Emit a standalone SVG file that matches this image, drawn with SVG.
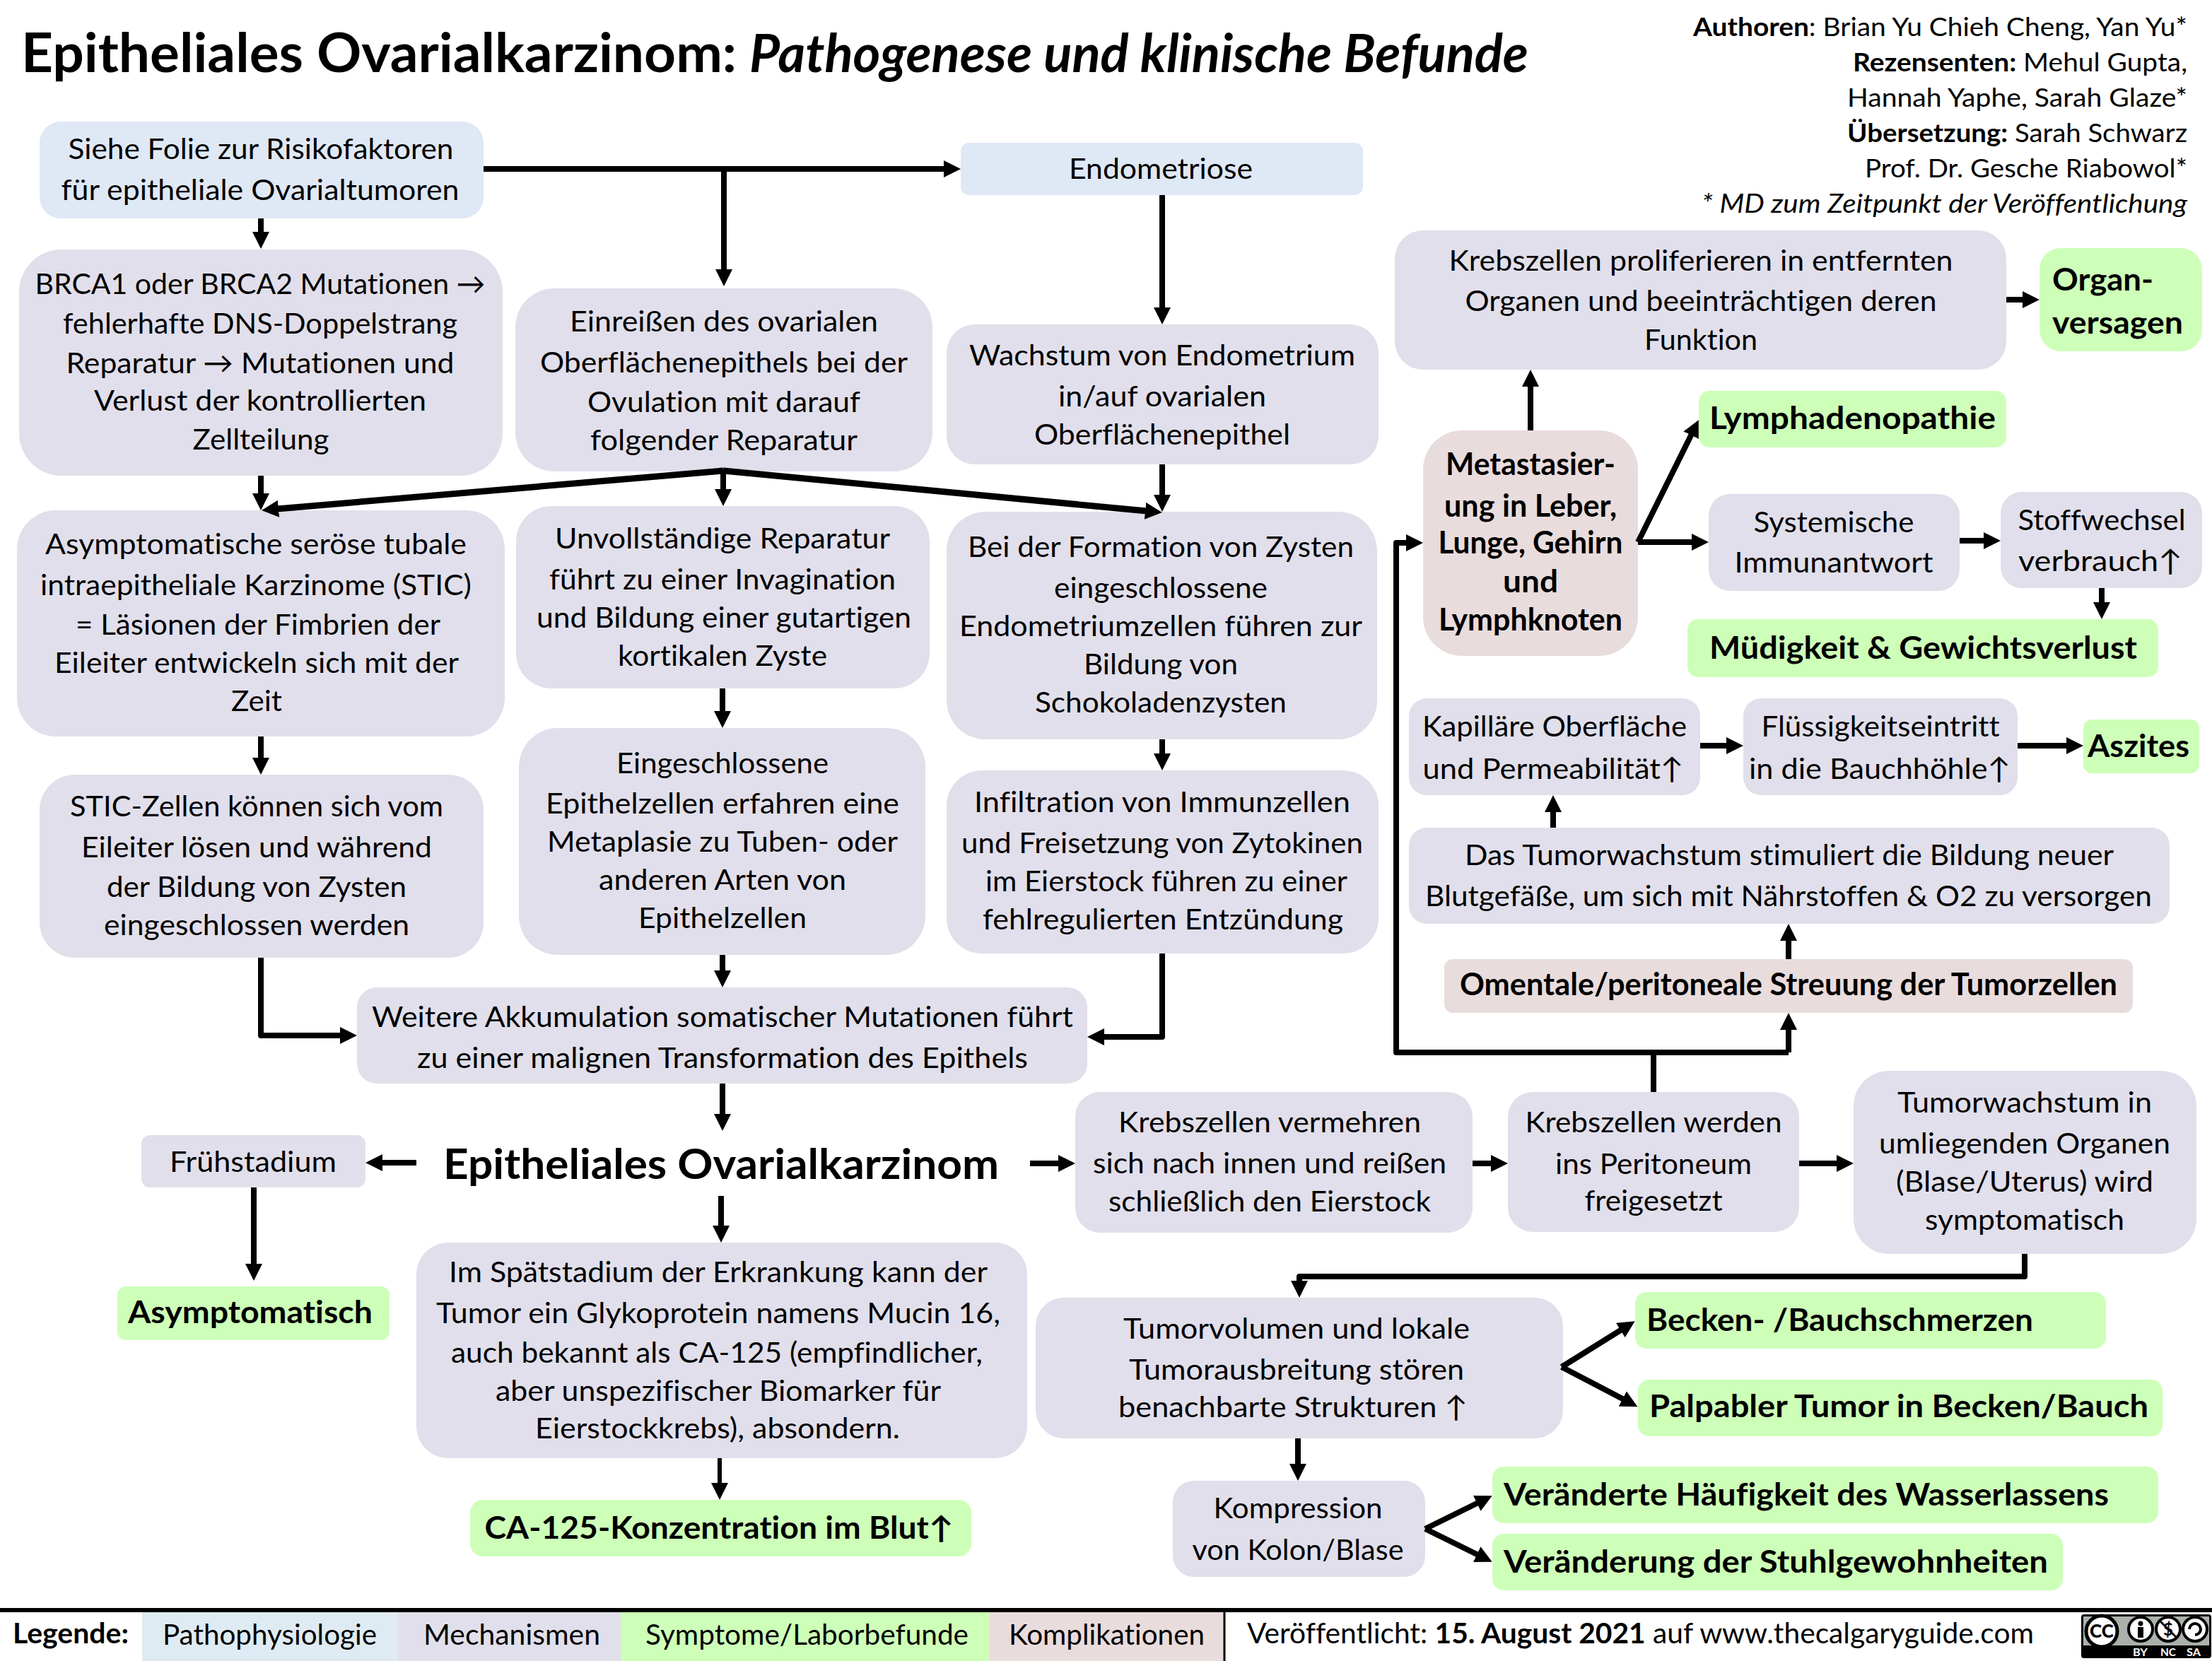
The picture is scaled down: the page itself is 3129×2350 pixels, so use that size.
<svg xmlns="http://www.w3.org/2000/svg" width="3129" height="2350" viewBox="0 0 3129 2350">
<style>
text{font-family:Lato,"Noto Sans","DejaVu Sans",sans-serif;fill:#000;font-size:41px;font-variant-ligatures:none}
.c{text-anchor:middle}
.e{text-anchor:end;font-size:36px}
.b{font-weight:700;font-size:43px}
tspan.bb{font-weight:700}
.pa{fill:#DFE8F5}.me{fill:#E1DFEB}.sy{fill:#CDFFB8}.ko{fill:#E9DCDC}
.ln{fill:none;stroke:#000;stroke-width:8;stroke-linejoin:round}
.ar{marker-end:url(#a)}
</style>
<defs>
<marker id="a" markerUnits="userSpaceOnUse" markerWidth="26" markerHeight="26" refX="2" refY="12" orient="auto"><path d="M0 0L24 12L0 24Z" fill="#000"/></marker>
</defs>
<rect width="3129" height="2350" fill="#fff"/>
<g id="header">
<text x="30" y="102" style="font-size:76px;font-weight:700" textLength="1012" lengthAdjust="spacingAndGlyphs">Epitheliales Ovarialkarzinom:</text>
<text x="1060" y="102" style="font-size:74px;font-weight:700;font-style:italic" textLength="1102" lengthAdjust="spacingAndGlyphs">Pathogenese und klinische Befunde</text>
<text class="e" x="3094" y="51" textLength="699" lengthAdjust="spacingAndGlyphs"><tspan class="bb">Authoren</tspan>: Brian Yu Chieh Cheng, Yan Yu*</text>
<text class="e" x="3094" y="101" textLength="473" lengthAdjust="spacingAndGlyphs"><tspan class="bb">Rezensenten:</tspan> Mehul Gupta,</text>
<text class="e" x="3094" y="151" textLength="481" lengthAdjust="spacingAndGlyphs">Hannah Yaphe, Sarah Glaze*</text>
<text class="e" x="3094" y="201" textLength="481" lengthAdjust="spacingAndGlyphs"><tspan class="bb">Übersetzung:</tspan> Sarah Schwarz</text>
<text class="e" x="3094" y="251" textLength="456" lengthAdjust="spacingAndGlyphs">Prof. Dr. Gesche Riabowol*</text>
<text class="e" x="3094" y="301" font-style="italic" textLength="687" lengthAdjust="spacingAndGlyphs">* MD zum Zeitpunkt der Veröffentlichung</text>
</g>
<g id="n1"><rect class="pa" x="56" y="172" width="628" height="137" rx="30"/>
<text class="c" x="369" y="225" textLength="545" lengthAdjust="spacingAndGlyphs">Siehe Folie zur Risikofaktoren</text>
<text class="c" x="368" y="283" textLength="563" lengthAdjust="spacingAndGlyphs">für epitheliale Ovarialtumoren</text></g>
<g id="n2"><rect class="pa" x="1359" y="202" width="569" height="74" rx="12"/>
<text class="c" x="1642" y="253" textLength="260" lengthAdjust="spacingAndGlyphs">Endometriose</text></g>
<g id="n3"><rect class="me" x="27" y="353" width="684" height="320" rx="60"/>
<text class="c" x="368" y="416" textLength="637" lengthAdjust="spacingAndGlyphs">BRCA1 oder BRCA2 Mutationen →</text>
<text class="c" x="368" y="472" textLength="558" lengthAdjust="spacingAndGlyphs">fehlerhafte DNS-Doppelstrang</text>
<text class="c" x="368" y="528" textLength="549" lengthAdjust="spacingAndGlyphs">Reparatur → Mutationen und</text>
<text class="c" x="368" y="581" textLength="470" lengthAdjust="spacingAndGlyphs">Verlust der kontrollierten</text>
<text class="c" x="369" y="636" textLength="193" lengthAdjust="spacingAndGlyphs">Zellteilung</text></g>
<g id="n4"><rect class="me" x="729" y="408" width="590" height="259" rx="55"/>
<text class="c" x="1024" y="469" textLength="436" lengthAdjust="spacingAndGlyphs">Einreißen des ovarialen</text>
<text class="c" x="1024" y="527" textLength="520" lengthAdjust="spacingAndGlyphs">Oberflächenepithels bei der</text>
<text class="c" x="1024" y="583" textLength="386" lengthAdjust="spacingAndGlyphs">Ovulation mit darauf</text>
<text class="c" x="1024" y="637" textLength="378" lengthAdjust="spacingAndGlyphs">folgender Reparatur</text></g>
<g id="n5"><rect class="me" x="1339" y="459" width="611" height="198" rx="40"/>
<text class="c" x="1644" y="517" textLength="546" lengthAdjust="spacingAndGlyphs">Wachstum von Endometrium</text>
<text class="c" x="1644" y="575" textLength="294" lengthAdjust="spacingAndGlyphs">in/auf ovarialen</text>
<text class="c" x="1644" y="629" textLength="362" lengthAdjust="spacingAndGlyphs">Oberflächenepithel</text></g>
<g id="n6"><rect class="me" x="24" y="722" width="690" height="320" rx="55"/>
<text class="c" x="362" y="784" textLength="596" lengthAdjust="spacingAndGlyphs">Asymptomatische seröse tubale</text>
<text class="c" x="362" y="842" textLength="610" lengthAdjust="spacingAndGlyphs">intraepitheliale Karzinome (STIC)</text>
<text class="c" x="365" y="898" textLength="516" lengthAdjust="spacingAndGlyphs">= Läsionen der Fimbrien der</text>
<text class="c" x="363" y="952" textLength="572" lengthAdjust="spacingAndGlyphs">Eileiter entwickeln sich mit der</text>
<text class="c" x="363" y="1006" textLength="72" lengthAdjust="spacingAndGlyphs">Zeit</text></g>
<g id="n7"><rect class="me" x="730" y="716" width="585" height="258" rx="50"/>
<text class="c" x="1022" y="776" textLength="474" lengthAdjust="spacingAndGlyphs">Unvollständige Reparatur</text>
<text class="c" x="1022" y="834" textLength="490" lengthAdjust="spacingAndGlyphs">führt zu einer Invagination</text>
<text class="c" x="1024" y="888" textLength="530" lengthAdjust="spacingAndGlyphs">und Bildung einer gutartigen</text>
<text class="c" x="1022" y="942" textLength="296" lengthAdjust="spacingAndGlyphs">kortikalen Zyste</text></g>
<g id="n8"><rect class="me" x="1339" y="724" width="609" height="322" rx="55"/>
<text class="c" x="1642" y="788" textLength="546" lengthAdjust="spacingAndGlyphs">Bei der Formation von Zysten</text>
<text class="c" x="1642" y="846" textLength="302" lengthAdjust="spacingAndGlyphs">eingeschlossene</text>
<text class="c" x="1642" y="900" textLength="570" lengthAdjust="spacingAndGlyphs">Endometriumzellen führen zur</text>
<text class="c" x="1642" y="954" textLength="218" lengthAdjust="spacingAndGlyphs">Bildung von</text>
<text class="c" x="1642" y="1008" textLength="356" lengthAdjust="spacingAndGlyphs">Schokoladenzysten</text></g>
<g id="n9"><rect class="me" x="56" y="1096" width="628" height="259" rx="50"/>
<text class="c" x="363" y="1155" textLength="528" lengthAdjust="spacingAndGlyphs">STIC-Zellen können sich vom</text>
<text class="c" x="363" y="1213" textLength="496" lengthAdjust="spacingAndGlyphs">Eileiter lösen und während</text>
<text class="c" x="363" y="1269" textLength="424" lengthAdjust="spacingAndGlyphs">der Bildung von Zysten</text>
<text class="c" x="363" y="1323" textLength="432" lengthAdjust="spacingAndGlyphs">eingeschlossen werden</text></g>
<g id="n10"><rect class="me" x="734" y="1030" width="575" height="321" rx="55"/>
<text class="c" x="1022" y="1094" textLength="300" lengthAdjust="spacingAndGlyphs">Eingeschlossene</text>
<text class="c" x="1022" y="1151" textLength="500" lengthAdjust="spacingAndGlyphs">Epithelzellen erfahren eine</text>
<text class="c" x="1022" y="1205" textLength="496" lengthAdjust="spacingAndGlyphs">Metaplasie zu Tuben- oder</text>
<text class="c" x="1022" y="1259" textLength="350" lengthAdjust="spacingAndGlyphs">anderen Arten von</text>
<text class="c" x="1022" y="1313" textLength="238" lengthAdjust="spacingAndGlyphs">Epithelzellen</text></g>
<g id="n11"><rect class="me" x="1339" y="1090" width="611" height="259" rx="50"/>
<text class="c" x="1644" y="1149" textLength="532" lengthAdjust="spacingAndGlyphs">Infiltration von Immunzellen</text>
<text class="c" x="1644" y="1207" textLength="568" lengthAdjust="spacingAndGlyphs">und Freisetzung von Zytokinen</text>
<text class="c" x="1650" y="1261" textLength="512" lengthAdjust="spacingAndGlyphs">im Eierstock führen zu einer</text>
<text class="c" x="1645" y="1315" textLength="510" lengthAdjust="spacingAndGlyphs">fehlregulierten Entzündung</text></g>
<g id="n12"><rect class="me" x="505" y="1397" width="1033" height="136" rx="28"/>
<text class="c" x="1022" y="1453" textLength="992" lengthAdjust="spacingAndGlyphs">Weitere Akkumulation somatischer Mutationen führt</text>
<text class="c" x="1022" y="1511" textLength="864" lengthAdjust="spacingAndGlyphs">zu einer malignen Transformation des Epithels</text></g>
<g id="n13"><rect class="me" x="200" y="1606" width="317" height="74" rx="12"/>
<text class="c" x="358" y="1658" textLength="236" lengthAdjust="spacingAndGlyphs">Frühstadium</text></g>
<g id="n14"><text class="c b" x="1020" y="1668" style="font-size:60px" textLength="786" lengthAdjust="spacingAndGlyphs">Epitheliales Ovarialkarzinom</text></g>
<g id="n15"><rect class="sy" x="166" y="1820" width="385" height="76" rx="12"/>
<text class="c b" x="354" y="1872" textLength="346" lengthAdjust="spacingAndGlyphs">Asymptomatisch</text></g>
<g id="n16"><rect class="me" x="589" y="1758" width="864" height="305" rx="45"/>
<text class="c" x="1016" y="1814" textLength="762" lengthAdjust="spacingAndGlyphs">Im Spätstadium der Erkrankung kann der</text>
<text class="c" x="1016" y="1872" textLength="798" lengthAdjust="spacingAndGlyphs">Tumor ein Glykoprotein namens Mucin 16,</text>
<text class="c" x="1014" y="1928" textLength="752" lengthAdjust="spacingAndGlyphs">auch bekannt als CA-125 (empfindlicher,</text>
<text class="c" x="1016" y="1982" textLength="630" lengthAdjust="spacingAndGlyphs">aber unspezifischer Biomarker für</text>
<text class="c" x="1015" y="2035" textLength="516" lengthAdjust="spacingAndGlyphs">Eierstockkrebs), absondern.</text></g>
<g id="n17"><rect class="sy" x="665" y="2122" width="709" height="80" rx="18"/>
<text class="c b" x="1017" y="2177" textLength="663" lengthAdjust="spacingAndGlyphs">CA-125-Konzentration im Blut↑</text></g>
<g id="n18"><rect class="me" x="1521" y="1545" width="562" height="199" rx="35"/>
<text class="c" x="1796" y="1602" textLength="428" lengthAdjust="spacingAndGlyphs">Krebszellen vermehren</text>
<text class="c" x="1796" y="1660" textLength="500" lengthAdjust="spacingAndGlyphs">sich nach innen und reißen</text>
<text class="c" x="1796" y="1714" textLength="456" lengthAdjust="spacingAndGlyphs">schließlich den Eierstock</text></g>
<g id="n19"><rect class="me" x="2133" y="1545" width="412" height="198" rx="35"/>
<text class="c" x="2339" y="1602" textLength="363" lengthAdjust="spacingAndGlyphs">Krebszellen werden</text>
<text class="c" x="2339" y="1661" textLength="278" lengthAdjust="spacingAndGlyphs">ins Peritoneum</text>
<text class="c" x="2339" y="1713" textLength="195" lengthAdjust="spacingAndGlyphs">freigesetzt</text></g>
<g id="n20"><rect class="me" x="2622" y="1515" width="485" height="259" rx="50"/>
<text class="c" x="2864" y="1574" textLength="360" lengthAdjust="spacingAndGlyphs">Tumorwachstum in</text>
<text class="c" x="2864" y="1632" textLength="412" lengthAdjust="spacingAndGlyphs">umliegenden Organen</text>
<text class="c" x="2864" y="1686" textLength="364" lengthAdjust="spacingAndGlyphs">(Blase/Uterus) wird</text>
<text class="c" x="2864" y="1740" textLength="282" lengthAdjust="spacingAndGlyphs">symptomatisch</text></g>
<g id="n21"><rect class="me" x="1465" y="1836" width="746" height="199" rx="40"/>
<text class="c" x="1834" y="1894" textLength="490" lengthAdjust="spacingAndGlyphs">Tumorvolumen und lokale</text>
<text class="c" x="1834" y="1952" textLength="474" lengthAdjust="spacingAndGlyphs">Tumorausbreitung stören</text>
<text class="c" x="1829" y="2005" textLength="494" lengthAdjust="spacingAndGlyphs">benachbarte Strukturen ↑</text></g>
<g id="n22"><rect class="sy" x="2313" y="1828" width="666" height="80" rx="16"/>
<text class="b" x="2329" y="1883" textLength="547" lengthAdjust="spacingAndGlyphs">Becken- /Bauchschmerzen</text></g>
<g id="n23"><rect class="sy" x="2317" y="1952" width="742" height="80" rx="16"/>
<text class="b" x="2333" y="2005" textLength="706" lengthAdjust="spacingAndGlyphs">Palpabler Tumor in Becken/Bauch</text></g>
<g id="n24"><rect class="me" x="1659" y="2095" width="357" height="136" rx="30"/>
<text class="c" x="1836" y="2148" textLength="239" lengthAdjust="spacingAndGlyphs">Kompression</text>
<text class="c" x="1836" y="2207" textLength="299" lengthAdjust="spacingAndGlyphs">von Kolon/Blase</text></g>
<g id="n25"><rect class="sy" x="2111" y="2075" width="942" height="80" rx="16"/>
<text class="b" x="2127" y="2130" textLength="856" lengthAdjust="spacingAndGlyphs">Veränderte Häufigkeit des Wasserlassens</text></g>
<g id="n26"><rect class="sy" x="2111" y="2170" width="807" height="80" rx="16"/>
<text class="b" x="2127" y="2225" textLength="770" lengthAdjust="spacingAndGlyphs">Veränderung der Stuhlgewohnheiten</text></g>
<g id="n27"><rect class="me" x="1973" y="326" width="865" height="197" rx="40"/>
<text class="c" x="2406" y="383" textLength="713" lengthAdjust="spacingAndGlyphs">Krebszellen proliferieren in entfernten</text>
<text class="c" x="2406" y="440" textLength="667" lengthAdjust="spacingAndGlyphs">Organen und beeinträchtigen deren</text>
<text class="c" x="2406" y="495" textLength="160" lengthAdjust="spacingAndGlyphs">Funktion</text></g>
<g id="n28"><rect class="sy" x="2885" y="351" width="230" height="146" rx="30"/>
<text class="b" x="2903" y="411" textLength="143" lengthAdjust="spacingAndGlyphs">Organ-</text>
<text class="b" x="2903" y="472" textLength="185" lengthAdjust="spacingAndGlyphs">versagen</text></g>
<g id="n29"><rect class="sy" x="2403" y="553" width="435" height="80" rx="15"/>
<text class="b" x="2418" y="607" textLength="405" lengthAdjust="spacingAndGlyphs">Lymphadenopathie</text></g>
<g id="n30"><rect class="ko" x="2013" y="609" width="304" height="319" rx="55"/>
<text class="c b" x="2165" y="672" textLength="240" lengthAdjust="spacingAndGlyphs">Metastasier-</text>
<text class="c b" x="2165" y="731" textLength="244" lengthAdjust="spacingAndGlyphs">ung in Leber,</text>
<text class="c b" x="2165" y="783" textLength="261" lengthAdjust="spacingAndGlyphs">Lunge, Gehirn</text>
<text class="c b" x="2165" y="838" textLength="78" lengthAdjust="spacingAndGlyphs">und</text>
<text class="c b" x="2165" y="892" textLength="260" lengthAdjust="spacingAndGlyphs">Lymphknoten</text></g>
<g id="n31"><rect class="me" x="2417" y="699" width="355" height="137" rx="30"/>
<text class="c" x="2594" y="753" textLength="227" lengthAdjust="spacingAndGlyphs">Systemische</text>
<text class="c" x="2594" y="810" textLength="281" lengthAdjust="spacingAndGlyphs">Immunantwort</text></g>
<g id="n32"><rect class="me" x="2830" y="696" width="285" height="136" rx="30"/>
<text class="c" x="2973" y="750" textLength="237" lengthAdjust="spacingAndGlyphs">Stoffwechsel</text>
<text class="c" x="2971" y="808" textLength="232" lengthAdjust="spacingAndGlyphs">verbrauch↑</text></g>
<g id="n33"><rect class="sy" x="2387" y="876" width="666" height="82" rx="15"/>
<text class="b" x="2418" y="932" textLength="605" lengthAdjust="spacingAndGlyphs">Müdigkeit &amp; Gewichtsverlust</text></g>
<g id="n34"><rect class="me" x="1993" y="988" width="412" height="137" rx="25"/>
<text class="c" x="2199" y="1042" textLength="374" lengthAdjust="spacingAndGlyphs">Kapilläre Oberfläche</text>
<text class="c" x="2197" y="1102" textLength="369" lengthAdjust="spacingAndGlyphs">und Permeabilität↑</text></g>
<g id="n35"><rect class="me" x="2466" y="988" width="388" height="137" rx="25"/>
<text class="c" x="2660" y="1042" textLength="337" lengthAdjust="spacingAndGlyphs">Flüssigkeitseintritt</text>
<text class="c" x="2659" y="1102" textLength="370" lengthAdjust="spacingAndGlyphs">in die Bauchhöhle↑</text></g>
<g id="n36"><rect class="sy" x="2947" y="1018" width="164" height="76" rx="12"/>
<text class="b" x="2953" y="1071" textLength="144" lengthAdjust="spacingAndGlyphs">Aszites</text></g>
<g id="n37"><rect class="me" x="1993" y="1171" width="1076" height="136" rx="25"/>
<text class="c" x="2531" y="1224" textLength="918" lengthAdjust="spacingAndGlyphs">Das Tumorwachstum stimuliert die Bildung neuer</text>
<text class="c" x="2530" y="1282" textLength="1028" lengthAdjust="spacingAndGlyphs">Blutgefäße, um sich mit Nährstoffen &amp; O2 zu versorgen</text></g>
<g id="n38"><rect class="ko" x="2043" y="1357" width="974" height="76" rx="12"/>
<text class="b" x="2065" y="1408" textLength="930" lengthAdjust="spacingAndGlyphs">Omentale/peritoneale Streuung der Tumorzellen</text></g>
<g id="connectors">
<path class="ln ar" d="M369 309V330"/>
<path class="ln ar" d="M684 239H1337"/>
<path class="ln ar" d="M1024 239V383"/>
<path class="ln ar" d="M1644 276V437"/>
<path class="ln ar" d="M369 673V700"/>
<path class="ln ar" d="M1023 664V694"/>
<path class="ln ar" style="stroke-width:9" d="M1023 666L392 720"/>
<path class="ln ar" style="stroke-width:9" d="M1023 666L1622 723"/>
<path class="ln ar" d="M1644 657V702"/>
<path class="ln ar" d="M369 1042V1074"/>
<path class="ln ar" d="M1022 974V1008"/>
<path class="ln ar" d="M1644 1046V1068"/>
<path class="ln ar" d="M369 1355V1465H483"/>
<path class="ln ar" d="M1022 1351V1375"/>
<path class="ln ar" d="M1644 1349V1467H1560"/>
<path class="ln ar" d="M1022 1533V1578"/>
<path class="ln ar" d="M589 1645H539"/>
<path class="ln ar" d="M359 1680V1790"/>
<path class="ln ar" d="M1020 1692V1736"/>
<path class="ln ar" style="stroke-width:6" d="M1018 2063V2100"/>
<path class="ln ar" d="M1457 1646H1499"/>
<path class="ln ar" d="M2083 1646H2111"/>
<path class="ln ar" d="M2545 1646H2600"/>
<path class="ln" d="M2339 1545V1489"/>
<path class="ln ar" d="M2530 1489V1455"/>
<path class="ln ar" d="M2530 1489H1975V768H1991"/>
<path class="ln ar" d="M2530 1357V1329"/>
<path class="ln ar" d="M2197 1171V1147"/>
<path class="ln ar" d="M2405 1055H2444"/>
<path class="ln ar" d="M2854 1055H2925"/>
<path class="ln ar" d="M2165 609V545"/>
<path class="ln ar" d="M2838 424H2863"/>
<path class="ln ar" d="M2317 767L2393 614"/>
<path class="ln ar" d="M2317 767H2395"/>
<path class="ln ar" d="M2772 765H2808"/>
<path class="ln ar" d="M2973 832V854"/>
<path class="ln ar" d="M2864 1774V1806H1838V1814"/>
<path class="ln ar" d="M2209 1934L2294 1881"/>
<path class="ln ar" d="M2209 1934L2297 1980"/>
<path class="ln ar" d="M1836 2035V2073"/>
<path class="ln ar" d="M2016 2163L2091 2126"/>
<path class="ln ar" d="M2016 2163L2091 2200"/>
</g>
<g id="legend">
<rect x="201" y="2281" width="362" height="69" fill="#DFEBF2"/>
<rect class="me" x="563" y="2281" width="315" height="69"/>
<rect class="sy" x="878" y="2281" width="522" height="69"/>
<rect class="ko" x="1400" y="2281" width="332" height="69"/>
<path d="M0 2278H3129" stroke="#000" stroke-width="6"/>
<path d="M1732 2278V2350" stroke="#000" stroke-width="3"/>
<text class="b" x="18" y="2325" style="font-size:41px" textLength="164" lengthAdjust="spacingAndGlyphs">Legende:</text>
<text x="230" y="2327" textLength="303" lengthAdjust="spacingAndGlyphs">Pathophysiologie</text>
<text x="599" y="2327" textLength="250" lengthAdjust="spacingAndGlyphs">Mechanismen</text>
<text x="913" y="2327" textLength="457" lengthAdjust="spacingAndGlyphs">Symptome/Laborbefunde</text>
<text x="1427" y="2327" textLength="277" lengthAdjust="spacingAndGlyphs">Komplikationen</text>
<text x="1764" y="2325" textLength="1113" lengthAdjust="spacingAndGlyphs">Veröffentlicht: <tspan class="bb">15. August 2021</tspan> auf www.thecalgaryguide.com</text>
</g>
<g id="cc-badge">
<rect x="2944" y="2284" width="184" height="62" rx="4" fill="#000"/>
<rect x="2947" y="2287" width="178" height="41" fill="#AAB2AB"/>
<circle cx="2973" cy="2308" r="22" fill="#fff" stroke="#000" stroke-width="5"/>
<text class="c" x="2973" y="2317" style="font-size:26px;font-weight:900">CC</text>
<circle cx="3028" cy="2305" r="17" fill="#fff" stroke="#000" stroke-width="4"/>
<circle cx="3028" cy="2297" r="3.5"/><rect x="3024" y="2302" width="8" height="15"/>
<circle cx="3067" cy="2305" r="17" fill="#fff" stroke="#000" stroke-width="4"/>
<path d="M3055 2293L3079 2317" stroke="#000" stroke-width="3"/>
<text class="c" x="3067" y="2314" style="font-size:24px;font-weight:700">$</text>
<circle cx="3105" cy="2305" r="17" fill="#fff" stroke="#000" stroke-width="4"/>
<path d="M3097 2305A8 8 0 1 1 3105 2313" fill="none" stroke="#000" stroke-width="4"/>
<text x="3017" y="2343" style="fill:#fff;font-size:15px;font-weight:700" textLength="21" lengthAdjust="spacingAndGlyphs">BY</text>
<text x="3056" y="2343" style="fill:#fff;font-size:15px;font-weight:700" textLength="22" lengthAdjust="spacingAndGlyphs">NC</text>
<text x="3093" y="2343" style="fill:#fff;font-size:15px;font-weight:700" textLength="20" lengthAdjust="spacingAndGlyphs">SA</text>
</g>
</svg>
